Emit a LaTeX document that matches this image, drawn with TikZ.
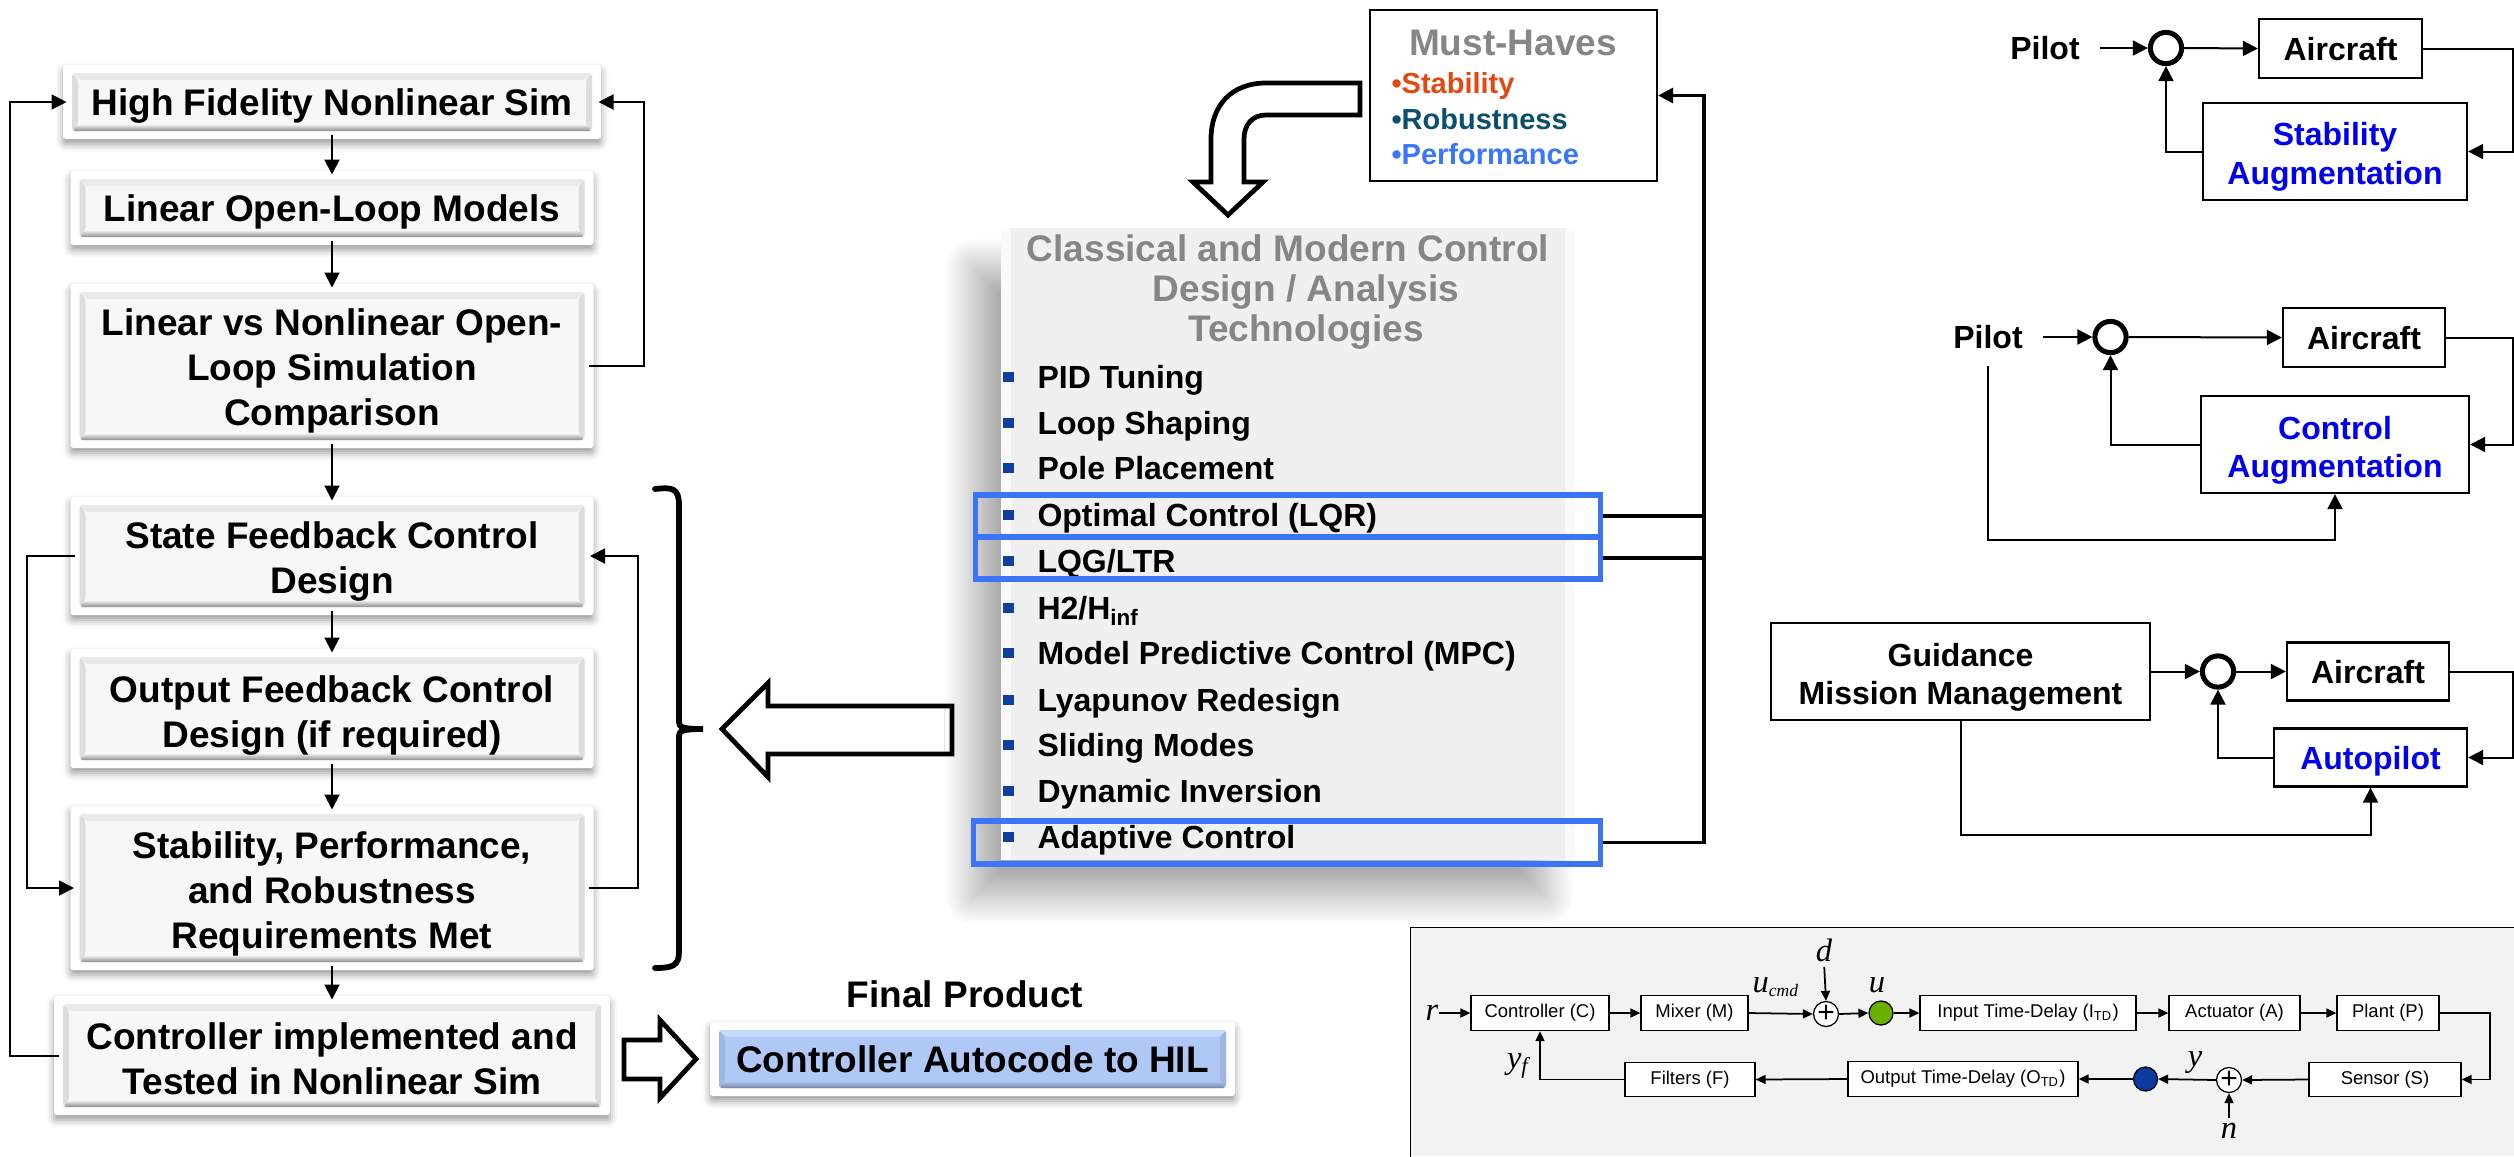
\documentclass[tikz,border=0pt]{standalone}
\usepackage{fontspec}
\setmainfont{Liberation Sans}
\newfontfamily\serifital{Liberation Serif}
\usetikzlibrary{arrows.meta,calc,shadows.blur}

\definecolor{cardface}{HTML}{F7F7F7}
\definecolor{cardtop}{HTML}{EAEAEA}
\definecolor{cardlow}{HTML}{8C8C8C}
\definecolor{cardside}{HTML}{DDDDDD}
\definecolor{autoface}{HTML}{AFC8F5}
\definecolor{autotop}{HTML}{C6D9FA}
\definecolor{autolow}{HTML}{7384AC}
\definecolor{autoside}{HTML}{9DB6E4}
\definecolor{panelface}{HTML}{F0F0F0}
\definecolor{panelside}{HTML}{FAFAFA}
\definecolor{titlegray}{HTML}{868686}
\definecolor{pickblue}{HTML}{3B74F6}
\definecolor{bulletblue}{HTML}{0F3F9F}
\definecolor{mustorange}{HTML}{E04A12}
\definecolor{mustteal}{HTML}{0A4F6B}
\definecolor{mustblue}{HTML}{3A75FF}
\definecolor{augblue}{HTML}{0000EE}
\definecolor{loopgray}{HTML}{F2F2F2}
\definecolor{ugreen}{HTML}{6AB000}
\definecolor{yblue}{HTML}{0B3B9E}

\newcommand{\bigfont}{\fontsize{14.8}{18}\selectfont\bfseries}
\newcommand{\midfont}{\fontsize{12.8}{15.3}\selectfont\bfseries}
\newcommand{\tinyfont}{\fontsize{7.4}{9}\selectfont}
\newcommand{\mathfont}{\serifital\itshape\fontsize{13}{15}\selectfont}
% taller first line, to push a text block down in its node
\newcommand{\lifted}[1]{\rule{0pt}{#1}}

% four bevel faces inside the white frame
\newcommand{\bevelpic}[4]{
    \coordinate (nw) at ($(path picture bounding box.north west)+(9,8)$);
    \coordinate (ne) at ($(path picture bounding box.north east)+(-9,8)$);
    \coordinate (se) at ($(path picture bounding box.south east)+(-9,-8)$);
    \coordinate (sw) at ($(path picture bounding box.south west)+(9,-8)$);
    \fill[#1] (nw) rectangle (se);
    \fill[#4] (nw) -- ($(nw)+(6,7)$) -- ($(sw)+(6,-7)$) -- (sw) -- cycle;
    \fill[#4] (ne) -- ($(ne)+(-6,7)$) -- ($(se)+(-6,-7)$) -- (se) -- cycle;
    \fill[#2] (nw) -- (ne) -- ($(ne)+(-6,7)$) -- ($(nw)+(6,7)$) -- cycle;
    \shade[top color=#1, bottom color=#3] (sw) -- (se) -- ($(se)+(-6,-7)$) -- ($(sw)+(6,-7)$) -- cycle;
}

\tikzset{
    softshadow/.style={blur shadow={shadow xshift=0pt, shadow yshift=-2pt, shadow blur radius=3pt, shadow opacity=40}},
    % centre the capitals of the text block in the node
    bigstrut/.style={execute at begin node={\rule{0pt}{13.7pt}}, execute at end node={\rule[-3.1pt]{0pt}{0pt}}},
    midstrut/.style={execute at begin node={\rule{0pt}{11.9pt}}, execute at end node={\rule[-2.7pt]{0pt}{0pt}}},
    card/.style 2 args={rectangle, fill=white, rounded corners=1.2pt, softshadow, inner sep=0pt, align=center,
        font=\bigfont, bigstrut, minimum width=#1*0.4pt, minimum height=#2*0.4pt,
        path picture={\bevelpic{cardface}{cardtop}{cardlow}{cardside}}},
    autocard/.style 2 args={rectangle, fill=white, rounded corners=1.2pt, softshadow, inner sep=0pt, align=center,
        font=\bigfont, bigstrut, minimum width=#1*0.4pt, minimum height=#2*0.4pt,
        path picture={\bevelpic{autoface}{autotop}{autolow}{autoside}}},
    pick/.style 2 args={rectangle, draw=pickblue, line width=2.1pt, minimum width=#1*0.4pt, minimum height=#2*0.4pt},
    item/.style={anchor=west, inner sep=0pt, text height=12.7pt, text depth=3.5pt, font=\fontsize{12.8}{15}\selectfont\bfseries,
        label={[fill=bulletblue, minimum size=4.2pt, inner sep=0pt, label distance=9.2pt]left:{}}},
    mustitem/.style={anchor=west, inner sep=0pt, text height=10.8pt, text depth=2.5pt, font=\fontsize{11.6}{14}\selectfont\bfseries, text=#1},
    ctrlbox/.style 2 args={rectangle, draw, line width=0.9pt, inner sep=0pt, align=center, font=\midfont, midstrut,
        minimum width=#1*0.4pt, minimum height=#2*0.4pt},
    ring/.style={circle, draw, line width=2pt, fill=white, inner sep=0pt, minimum size=12.5pt},
    loopbox/.style 2 args={rectangle, draw, fill=white, line width=0.5pt, inner sep=0pt, font=\tinyfont,
        minimum width=#1*0.4pt, minimum height=#2*0.4pt},
    sumnode/.style={circle, draw, fill=white, line width=0.5pt, inner sep=0pt, minimum size=10pt, font=\fontsize{12}{12}\selectfont},
    dot/.style={circle, draw, fill=#1, line width=0.5pt, inner sep=0pt, minimum size=9.6pt},
    mathlabel/.style={inner sep=0pt, font=\mathfont},
    flow/.style={-{Triangle[length=6pt,width=6pt]}, line width=0.8pt},
    busline/.style={line width=1.3pt},
    busarrow/.style={-{Triangle[length=6pt,width=6pt]}, line width=1.3pt},
    tinyflow/.style={-{Triangle[length=4pt,width=3.6pt]}, line width=0.7pt},
    blockarrow/.style={draw, fill=white, line width=1.9pt, miter limit=10}
}

\begin{document}
\begin{tikzpicture}[x=0.4pt, y=-0.4pt]
    \useasboundingbox (0,0) rectangle (2514,1156);

    % Left design flow
    \node[card={538}{74}] (hifi) at (332,102) {High Fidelity Nonlinear Sim};
    \node[card={523}{74}] (openloop) at (332,208) {Linear Open-Loop Models};
    \node[card={523}{164}] (compare) at (332,366) {\lifted{14.5pt}Linear vs Nonlinear Open-\\Loop Simulation\\Comparison};
    \node[card={523}{118}] (statefb) at (332,556) {\lifted{15.3pt}State Feedback Control\\Design};
    \node[card={523}{119}] (outfb) at (332,708.5) {\lifted{16.5pt}Output Feedback Control\\Design (if required)};
    \node[card={523}{164}] (reqs) at (332,888) {\lifted{15.3pt}Stability, Performance,\\and Robustness\\Requirements Met};
    \node[card={556}{119}] (implemented) at (332,1055.5) {\lifted{16.5pt}Controller implemented and\\Tested in Nonlinear Sim};
    \node[font=\bigfont, inner sep=0pt] (finaltitle) at (965,994) {Final Product};
    \node[autocard={525}{74}] (autocode) at (972.5,1059) {Controller Autocode to HIL};

    \draw[flow, shorten <=-2pt, shorten >=-1.6pt] (hifi.south) -- (openloop.north);
    \draw[flow, shorten <=-2pt, shorten >=-1.6pt] (openloop.south) -- (compare.north);
    \draw[flow, shorten <=-2pt, shorten >=-1.6pt] (compare.south) -- (statefb.north);
    \draw[flow, shorten <=-2pt, shorten >=-1.6pt] (statefb.south) -- (outfb.north);
    \draw[flow, shorten <=-2pt, shorten >=-1.6pt] (outfb.south) -- (reqs.north);
    \draw[flow, shorten <=-2pt, shorten >=-1.6pt] (reqs.south) -- (implemented.north);

    % Feedback paths
    \draw[flow, shorten <=-2pt, shorten >=-1.6pt] (implemented.west) -- ++(-43.5,0) |- (hifi.west);
    \draw[flow, shorten <=-2pt, shorten >=-1.2pt] (compare.east) -- ++(50,0) |- (hifi.east);
    \draw[flow, shorten <=-2pt, shorten >=-1.6pt] (statefb.west) -- ++(-43.5,0) |- (reqs.west);
    \draw[flow, shorten <=-2pt, shorten >=-1.6pt] (reqs.east) -- ++(44,0) |- (statefb.east);

    % Bracket and block arrows
    \draw[line width=2.3pt, line cap=round] (655,489) .. controls (672,487) and (679,488) .. (679,505) -- (679,722)
        .. controls (679,727) and (682,729) .. (703,729) .. controls (682,729) and (679,731) .. (679,736)
        -- (679,952) .. controls (679,966) and (672,968) .. (655,968);
    \draw[blockarrow] (952,706) -- (768,706) -- (768,683) -- (722,729) -- (768,777) -- (768,754) -- (952,754) -- cycle;
    \draw[blockarrow] (624,1040) -- (660,1040) -- (660,1020) -- (696,1059) -- (660,1098) -- (660,1079) -- (624,1079) -- cycle;
    \draw[blockarrow] (1360,83) -- (1266,83) .. controls (1232,83) and (1211,105) .. (1211,139) -- (1211,182) -- (1193,182)
        -- (1228,215) -- (1263,182) -- (1244,182) -- (1244,139) .. controls (1244,125) and (1252,115) .. (1266,115)
        -- (1360,115) -- cycle;

    % Technology panel
    \node[rectangle, fill=panelside, inner sep=0pt, minimum width=574*0.4pt, minimum height=632*0.4pt,
        blur shadow={shadow xshift=-11.5pt, shadow yshift=-15pt, shadow blur radius=11pt, shadow blur steps=30, shadow opacity=33},
        path picture={\fill[panelface] ($(path picture bounding box.north west)+(10,0)$) rectangle ($(path picture bounding box.south east)+(-10,0)$);}]
        (panel) at (1288,544) {};
    \node[inner sep=0pt, align=center, text=titlegray, font=\fontsize{14.8}{16}\selectfont\bfseries] (paneltitle) at (1306,287)
        {\lifted{14.5pt}Classical and Modern Control\hspace*{14.4pt}\\Design / Analysis\\Technologies\rule[-3.1pt]{0pt}{0pt}};
    \node[item] (pid) at (1037,377) {PID Tuning};
    \node[item] (loopshape) at (1037,423) {Loop Shaping};
    \node[item] (pole) at (1037,468) {Pole Placement};
    \node[item] (lqr) at (1037,515) {Optimal Control (LQR)};
    \node[item] (lqg) at (1037,561) {LQG/LTR};
    \node[item] (hinf) at (1037,608) {H2/H\textsubscript{inf}};
    \node[item] (mpc) at (1037,653) {Model Predictive Control (MPC)};
    \node[item] (lyap) at (1037,700) {Lyapunov Redesign};
    \node[item] (sliding) at (1037,745) {Sliding Modes};
    \node[item] (dyninv) at (1037,791) {Dynamic Inversion};
    \node[item] (adaptive) at (1037,837) {Adaptive Control};
    \node[pick={625}{42}] (lqrbox) at (1288,516) {};
    \node[pick={625}{42}] (lqgbox) at (1288,558) {};
    \node[pick={627}{43}] (adaptbox) at (1287,842.5) {};

    % Must-haves box
    \node[rectangle, draw, line width=0.9pt, minimum width=287*0.4pt, minimum height=171*0.4pt] (mustbox) at (1513.5,95.5) {};
    \node[inner sep=0pt, text=titlegray, font=\bigfont] (musttitle) at (1513,43) {Must-Haves};
    \node[mustitem=mustorange] (muststab) at (1391,83) {•Stability};
    \node[mustitem=mustteal] (mustrob) at (1391,119) {•Robustness};
    \node[mustitem=mustblue] (mustperf) at (1391,154) {•Performance};

    \coordinate (bus) at (1704,516);
    \draw[busline] (lqrbox.east) -- (bus);
    \draw[busline] (lqgbox.east) -- (lqgbox.east -| bus);
    \draw[busarrow] (adaptbox.east) -| (bus) |- (mustbox.east);

    % Stability augmentation loop
    \node[inner sep=0pt, font=\midfont] (pilota) at (2045,48) {Pilot};
    \node[ring] (ringa) at (2166,48) {};
    \node[ctrlbox={163}{59}] (aircrafta) at (2340.5,48.5) {Aircraft};
    \node[ctrlbox={264}{97}, text=augblue] (stab) at (2335,151.5) {\lifted{13.6pt}Stability\\Augmentation};
    \coordinate (edgea) at (2513,151.5);
    \draw[flow, shorten <=8pt] (pilota.east) -- (ringa.west);
    \draw[flow] (ringa.east) -- (aircrafta.west);
    \draw[flow] (aircrafta.east) -| (edgea) -- (stab.east);
    \draw[flow] (stab.west) -| (ringa.south);

    % Control augmentation loop
    \node[inner sep=0pt, font=\midfont] (pilotb) at (1988,337) {Pilot};
    \node[ring] (ringb) at (2110.5,337) {};
    \node[ctrlbox={162}{59}] (aircraftb) at (2364,337.5) {Aircraft};
    \node[ctrlbox={268}{97}, text=augblue] (controlaug) at (2335,444.5) {\lifted{13.6pt}Control\\Augmentation};
    \coordinate (edgeb) at (2513,444.5);
    \draw[flow, shorten <=8pt] (pilotb.east) -- (ringb.west);
    \draw[flow] (ringb.east) -- (aircraftb.west);
    \draw[flow] (aircraftb.east) -| (edgeb) -- (controlaug.east);
    \draw[flow] (controlaug.west) -| (ringb.south);
    \draw[flow, shorten <=6.8pt] (pilotb.south) -- ++(0,191) -| (controlaug.south);

    % Autopilot loop
    \node[ctrlbox={379}{97}] (guidance) at (1960.5,671.5) {\lifted{13.6pt}Guidance\\Mission Management};
    \node[ring] (ringc) at (2218,671.5) {};
    \node[ctrlbox={162}{58}] (aircraftc) at (2368,671.5) {Aircraft};
    \node[ctrlbox={193}{58}, text=augblue] (autopilot) at (2370.5,757.5) {Autopilot};
    \coordinate (edgec) at (2513,757.5);
    \draw[flow] (guidance.east) -- (ringc.west);
    \draw[flow] (ringc.east) -- (aircraftc.west);
    \draw[flow] (aircraftc.east) -| (edgec) -- (autopilot.east);
    \draw[flow] (autopilot.west) -| (ringc.south);
    \draw[flow] (guidance.south) -- ++(0,114) -| (autopilot.south);

    % Closed-loop block diagram
    \node[rectangle, fill=loopgray, inner sep=0pt, minimum width=1103*0.4pt, minimum height=228*0.4pt] (loopbg) at (1962.5,1042) {};
    \draw[line width=0.6pt] (loopbg.south west) -- (loopbg.north west) -- (loopbg.north east);
    \node[mathlabel] (rlabel) at (1432,1013) {r};
    \node[loopbox={138}{35}] (controller) at (1540,1013) {Controller (C)};
    \node[loopbox={107}{35}] (mixer) at (1694.5,1013) {Mixer (M)};
    \node[sumnode] (suma) at (1826,1014) {+};
    \node[dot=ugreen] (udot) at (1881,1013) {};
    \node[loopbox={216}{35}] (inputtd) at (2028,1013) {Input Time-Delay (I\textsubscript{TD})};
    \node[loopbox={131}{35}] (actuator) at (2234.5,1013) {Actuator (A)};
    \node[loopbox={102}{35}] (plant) at (2388,1013) {Plant (P)};
    \node[loopbox={152}{34}] (sensor) at (2385,1079.5) {Sensor (S)};
    \node[sumnode] (sumb) at (2229,1080) {+};
    \node[dot=yblue] (ydot) at (2145.5,1079) {};
    \node[loopbox={230}{35}] (outputtd) at (1963,1079) {Output Time-Delay (O\textsubscript{TD})};
    \node[loopbox={130}{34}] (filters) at (1690,1079.5) {Filters (F)};
    \node[mathlabel] (dlabel) at (1824,950) {d};
    \node[mathlabel] (ucmd) at (1776,987) {u\textsubscript{\fontsize{7}{8}\selectfont cmd}};
    \node[mathlabel] (ulabel) at (1877,985) {u};
    \node[mathlabel] (ylabel) at (2195,1063) {y};
    \node[mathlabel] (yflabel) at (1518,1066) {y\textsubscript{f}};
    \node[mathlabel] (nlabel) at (2229,1131) {n};
    \coordinate (plantedge) at (2490,1079.5);

    \draw[tinyflow] (rlabel.east) -- (controller.west);
    \draw[tinyflow] (controller.east) -- (mixer.west);
    \draw[tinyflow] (mixer.east) -- (suma.west);
    \draw[tinyflow] (suma.east) -- (udot.west);
    \draw[tinyflow] (udot.east) -- (inputtd.west);
    \draw[tinyflow] (inputtd.east) -- (actuator.west);
    \draw[tinyflow] (actuator.east) -- (plant.west);
    \draw[tinyflow] (plant.east) -| (plantedge) -- (sensor.east);
    \draw[tinyflow] (sensor.west) -- (sumb.east);
    \draw[tinyflow] (sumb.west) -- (ydot.east);
    \draw[tinyflow] (ydot.west) -- (outputtd.east);
    \draw[tinyflow] (outputtd.west) -- (filters.east);
    \draw[tinyflow] (filters.west) -| (controller.south);
    \draw[tinyflow, shorten <=2pt] (dlabel.south) -- (suma.north);
    \draw[tinyflow, shorten <=2pt] (nlabel.north) -- (sumb.south);
\end{tikzpicture}
\end{document}
